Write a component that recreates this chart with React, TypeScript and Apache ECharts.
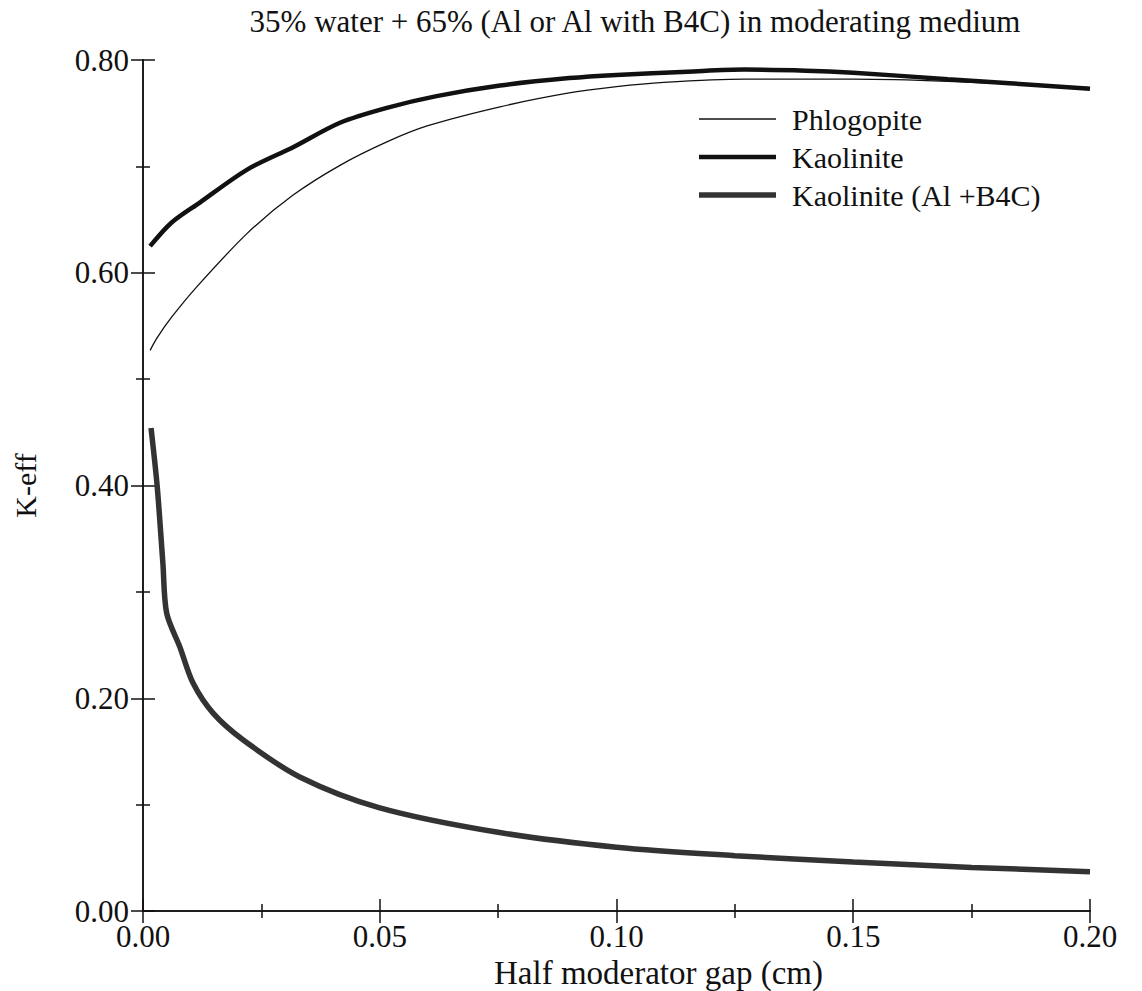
import React, { useEffect, useRef } from "react";
import * as echarts from "echarts";

const phlogopiteX = [0.0015, 0.003, 0.006, 0.0114, 0.022, 0.0317, 0.0416, 0.0515, 0.06, 0.0754, 0.09, 0.10, 0.11, 0.127, 0.15, 0.17, 0.20];
const phlogopiteY = [0.527, 0.539, 0.558, 0.587, 0.637, 0.673, 0.701, 0.723, 0.738, 0.756, 0.769, 0.775, 0.779, 0.782, 0.782, 0.780, 0.774];

const kaoliniteX = [0.0015, 0.006, 0.012, 0.022, 0.0317, 0.0416, 0.0515, 0.062, 0.0754, 0.09, 0.10, 0.115, 0.127, 0.14, 0.15, 0.17, 0.20];
const kaoliniteY = [0.625, 0.647, 0.666, 0.697, 0.718, 0.741, 0.755, 0.766, 0.776, 0.783, 0.786, 0.789, 0.791, 0.790, 0.788, 0.782, 0.773];

const b4cX = [0.0017, 0.003, 0.0042, 0.005, 0.0078, 0.0106, 0.0148, 0.0211, 0.0331, 0.05, 0.075, 0.10, 0.125, 0.15, 0.175, 0.20];
const b4cY = [0.454, 0.399, 0.327, 0.280, 0.248, 0.214, 0.186, 0.161, 0.126, 0.097, 0.074, 0.060, 0.052, 0.046, 0.041, 0.037];

const xTicks = ["0.00", "0.05", "0.10", "0.15", "0.20"];
const yTicks = ["0.00", "0.20", "0.40", "0.60", "0.80"];

const seriesNames = ["Phlogopite", "Kaolinite", "Kaolinite (Al +B4C)"];
const seriesColors = ["#111", "#111", "#333"];
const seriesWidths = [1.3, 4.5, 5.5];

const zip = (xs: number[], ys: number[]) => xs.map((x, i) => [x, ys[i]]);

const FONT = "'Liberation Serif', 'Times New Roman', serif";

export default function App() {
  const ref = useRef<HTMLDivElement>(null);
  useEffect(() => {
    if (!ref.current) return;
    const chart = echarts.init(ref.current, undefined, { renderer: "svg" });
    const axisLineStyle = { color: "#111", width: 1.5 };
    const tickCommon = {
      axisLine: { show: true, lineStyle: axisLineStyle },
      axisTick: { show: true, inside: true, length: 12, lineStyle: axisLineStyle },
      minorTick: { show: true, splitNumber: 2, length: 7, lineStyle: axisLineStyle },
      splitLine: { show: false },
    };
    const legendTop = 119;
    const legendGap = 38;
    const legendGraphics: any[] = [];
    seriesNames.forEach((name, i) => {
      const y = legendTop + i * legendGap;
      legendGraphics.push({
        type: "line",
        shape: { x1: 699, y1: y, x2: 776, y2: y },
        style: { stroke: seriesColors[i], lineWidth: seriesWidths[i] },
      });
      legendGraphics.push({
        type: "text",
        x: 792,
        y: y,
        style: {
          text: name,
          fontFamily: FONT,
          fontSize: 30,
          fill: "#111",
          verticalAlign: "middle",
          align: "left",
        },
      });
    });
    chart.setOption({
      animation: false,
      backgroundColor: "#fff",
      title: {
        text: "35% water + 65% (Al or Al with B4C) in moderating medium",
        left: 630,
        textAlign: "center",
        top: 1,
        textStyle: { fontFamily: FONT, fontSize: 31, fontWeight: "normal", color: "#111" },
      },
      grid: { left: 143, right: 52, top: 60, bottom: 80, containLabel: false, outerBoundsMode: "none" },
      graphic: legendGraphics,
      xAxis: [
        {
          type: "value",
          min: 0,
          max: 0.2,
          interval: 0.05,
          name: "Half moderator gap (cm)",
          nameLocation: "middle",
          nameGap: 41,
          nameTextStyle: { fontFamily: FONT, fontSize: 33, color: "#111", padding: [0, 0, 0, 84] },
          ...tickCommon,
          axisLabel: {
            fontFamily: FONT,
            fontSize: 31,
            color: "#111",
            margin: 10,
            formatter: (v: number) => xTicks[Math.round(v / 0.05)] ?? "",
          },
        },
        {
          type: "value",
          position: "top",
          min: 0,
          max: 0.2,
          interval: 0.05,
          ...tickCommon,
          axisLabel: { show: false },
        },
      ],
      yAxis: [
        {
          type: "value",
          min: 0,
          max: 0.8,
          interval: 0.2,
          name: "K-eff",
          nameLocation: "middle",
          nameGap: 103,
          nameTextStyle: { fontFamily: FONT, fontSize: 30, color: "#111" },
          ...tickCommon,
          axisLabel: {
            fontFamily: FONT,
            fontSize: 31,
            color: "#111",
            margin: 14,
            formatter: (v: number) => yTicks[Math.round(v / 0.2)] ?? "",
          },
        },
        {
          type: "value",
          position: "right",
          min: 0,
          max: 0.8,
          interval: 0.2,
          ...tickCommon,
          axisLabel: { show: false },
        },
      ],
      series: [
        {
          name: seriesNames[0],
          type: "line",
          smooth: 0.3,
          symbol: "none",
          data: zip(phlogopiteX, phlogopiteY),
          lineStyle: { color: seriesColors[0], width: seriesWidths[0] },
        },
        {
          name: seriesNames[1],
          type: "line",
          smooth: 0.3,
          symbol: "none",
          data: zip(kaoliniteX, kaoliniteY),
          lineStyle: { color: seriesColors[1], width: seriesWidths[1] },
        },
        {
          name: seriesNames[2],
          type: "line",
          smooth: 0.3,
          symbol: "none",
          data: zip(b4cX, b4cY),
          lineStyle: { color: seriesColors[2], width: seriesWidths[2] },
        },
      ],
    });
    return () => chart.dispose();
  }, []);
  return (
    <div
      ref={ref}
      style={{ position: "fixed", left: 0, top: 0, width: 1142, height: 991, background: "#fff" }}
    />
  );
}
